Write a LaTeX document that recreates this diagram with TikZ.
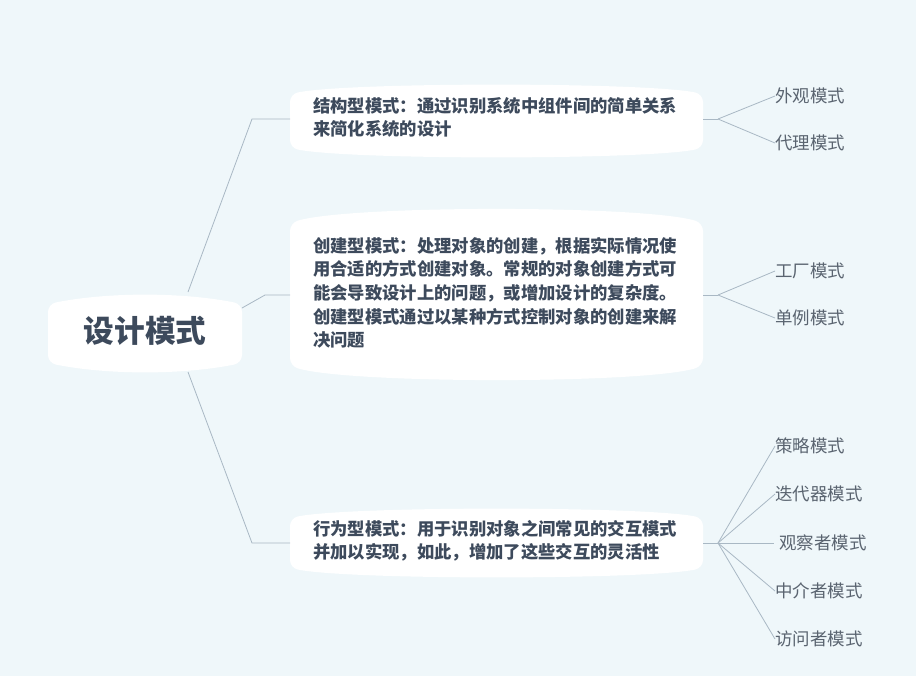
\documentclass[tikz,border=0pt]{standalone}
\usepackage{fontspec}
\setmainfont{Noto Sans CJK SC}
\begin{document}
\begin{tikzpicture}[x=0.75pt,y=-0.75pt,
  bub/.style={fill=white,draw=none,rounded corners=6pt},
  lnk/.style={draw=lineC,line width=0.6pt},
  btxt/.style={anchor=north west,align=left,font=\bfseries\fontsize{13pt}{17.7pt}\selectfont,text=txtC,inner sep=0pt},
  leaf/.style={anchor=west,font=\fontsize{13.1pt}{15pt}\selectfont,text=leafC,inner sep=0pt}]
\definecolor{bgC}{HTML}{EFF7FA}
\definecolor{lineC}{HTML}{A9B8C4}
\definecolor{txtC}{HTML}{3D4A5C}
\definecolor{leafC}{HTML}{5A6470}
\fill[bgC] (0,0) rectangle (916,676);
\useasboundingbox (0,0) rectangle (916,676);
\newcommand\bub[5]{\path[bub] (#1,#2+#5) .. controls (#1+60,#2) and (#3-60,#2) .. (#3,#2+#5) -- (#3,#4-#5) .. controls (#3-60,#4) and (#1+60,#4) .. (#1,#4-#5) -- cycle;}
\bub{48}{292}{242}{375}{12}
\bub{290}{82}{703}{160}{12}
\bub{290}{205}{703}{384}{18}
\bub{290}{506}{703}{580}{12}
\node[font=\bfseries\fontsize{23pt}{26pt}\selectfont,text=txtC] (root) at (145,331) {设计模式};
\node[btxt] (b1) at (313,97) {结构型模式：通过识别系统中组件间的简单关系\\来简化系统的设计};
\node[btxt] (b2) at (313,237) {创建型模式：处理对象的创建，根据实际情况使\\用合适的方式创建对象。常规的对象创建方式可\\能会导致设计上的问题，或增加设计的复杂度。\\创建型模式通过以某种方式控制对象的创建来解\\决问题};
\node[btxt] (b3) at (313,520) {行为型模式：用于识别对象之间常见的交互模式\\并加以实现，如此，增加了这些交互的灵活性};
\coordinate (l1) at (290,119); \coordinate (l2) at (290,295); \coordinate (l3) at (290,543);
\coordinate (r1) at (703,119); \coordinate (r2) at (703,295); \coordinate (r3) at (703,543);
\coordinate (k1) at (718,119); \coordinate (k2) at (718,295); \coordinate (k3) at (718,543);
\draw[lnk] (188,292) -- (252,119) -- (l1);
\draw[lnk] (242,308) -- (265,295) -- (l2);
\draw[lnk] (188,372) -- (252,543) -- (l3);
\draw[lnk] (r1) -- (k1); \draw[lnk] (r2) -- (k2); \draw[lnk] (r3) -- (k3);
\node[leaf] (a1) at (775,96) {外观模式};
\node[leaf] (a2) at (775,143) {代理模式};
\node[leaf] (c1) at (775,271) {工厂模式};
\node[leaf] (c2) at (775,318) {单例模式};
\node[leaf] (d1) at (775,446) {策略模式};
\node[leaf] (d2) at (775,494) {迭代器模式};
\node[leaf] (d3) at (779,543) {观察者模式};
\node[leaf] (d4) at (775,591) {中介者模式};
\node[leaf] (d5) at (775,639) {访问者模式};
\foreach \t in {a1,a2} \draw[lnk] (k1) -- (\t.west);
\foreach \t in {c1,c2} \draw[lnk] (k2) -- (\t.west);
\foreach \t in {d1,d2,d4,d5} \draw[lnk] (k3) -- (\t.west);
\draw[lnk] (k3) -- ([xshift=-4pt]d3.west);
\end{tikzpicture}
\end{document}
